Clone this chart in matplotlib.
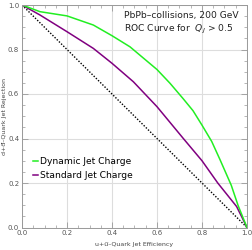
import matplotlib.pyplot as plt
from matplotlib.ticker import MultipleLocator

# ROC curves
dyn_x = [0.0, 0.08, 0.2, 0.317, 0.4, 0.48, 0.6, 0.658, 0.717, 0.76, 0.8, 0.843, 0.88, 0.93, 0.96, 1.0]
dyn_y = [1.0, 0.97, 0.951, 0.91, 0.862, 0.812, 0.71, 0.648, 0.578, 0.525, 0.46, 0.387, 0.305, 0.19, 0.1, 0.0]

std_x = [0.0, 0.08, 0.2, 0.317, 0.4, 0.495, 0.6, 0.717, 0.8, 0.87, 0.954, 1.0]
std_y = [1.0, 0.955, 0.88, 0.805, 0.738, 0.655, 0.543, 0.40, 0.30, 0.20, 0.094, 0.0]

diag_x = [0.0, 1.0]
diag_y = [1.0, 0.0]

ticks = [0.0, 0.2, 0.4, 0.6, 0.8, 1.0]

fig = plt.figure(figsize=(2.53, 2.5), dpi=100)
ax = fig.add_axes([22 / 253, 1 - 227.5 / 250, 225 / 253, 222.5 / 250])

ax.plot(diag_x, diag_y, color='black', ls=(0, (1, 1.2)), lw=1.0)
ax.plot(std_x, std_y, color='#800080', lw=1.1, label='Standard Jet Charge')
ax.plot(dyn_x, dyn_y, color='#22ee22', lw=1.1, label='Dynamic Jet Charge')

ax.set_xlim(0, 1)
ax.set_ylim(0, 1)
ax.set_xticks(ticks)
ax.set_yticks(ticks)
ax.set_xticklabels(['%.1f' % t for t in ticks])
ax.set_yticklabels(['%.1f' % t for t in ticks])
ax.xaxis.set_minor_locator(MultipleLocator(0.05))
ax.yaxis.set_minor_locator(MultipleLocator(0.05))
ax.grid(True, color='#dddddd', lw=0.8)
ax.set_axisbelow(True)

ax.tick_params(which='both', direction='in', top=True, right=True,
               color='#999999', labelsize=5, labelcolor='#555555', pad=2)
ax.tick_params(which='major', length=4, width=0.6)
ax.tick_params(which='minor', length=2, width=0.5)
for s in ax.spines.values():
    s.set_color('#999999')
    s.set_linewidth(0.7)

ax.set_xlabel('u+u\u0305\u2013Quark Jet Efficiency', fontsize=4.5, color='#444444', labelpad=4)
ax.set_ylabel('d+d\u0305\u2013Quark Jet Rejection', fontsize=4.5, color='#444444', labelpad=1)

ax.text(0.452, 0.955, 'PbPb\u2013collisions, 200 GeV', transform=ax.transAxes,
        fontsize=6.6, color='#222222', va='center')
ax.text(0.452, 0.892, 'ROC Curve for  $Q_J$ > 0.5', transform=ax.transAxes,
        fontsize=6.6, color='#222222', va='center')

h, l = ax.get_legend_handles_labels()
ax.legend(h[::-1], l[::-1], loc='center left', bbox_to_anchor=(0.02, 0.265),
          frameon=False, fontsize=6.6, handlelength=0.5, handletextpad=0.3,
          labelspacing=0.55, borderaxespad=0.3)

fig.savefig('out.png', dpi=100)
